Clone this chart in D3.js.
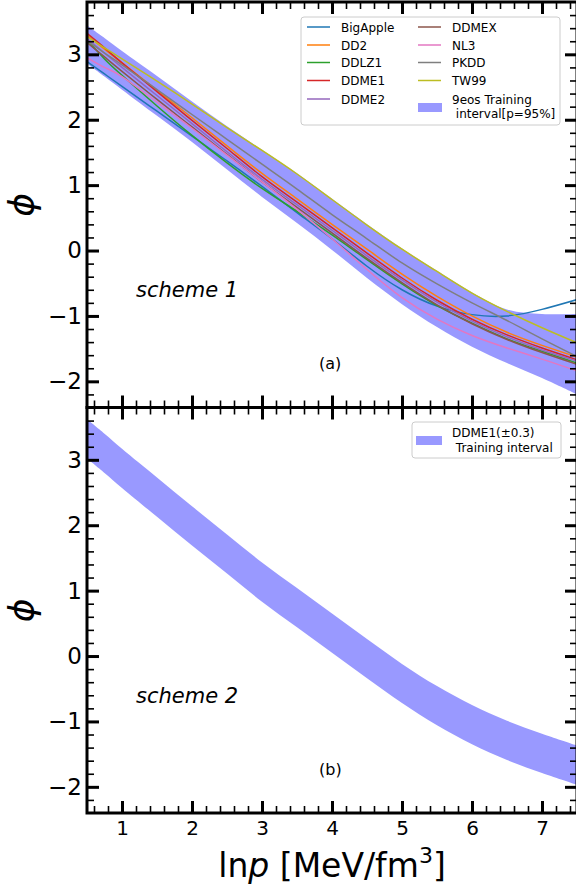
<!DOCTYPE html>
<html><head><meta charset="utf-8">
<script src="https://cdn.jsdelivr.net/npm/d3@7/dist/d3.min.js"></script>
<style>
body{margin:0;background:#fff}
svg{display:block}
text{font-family:"DejaVu Sans",sans-serif;fill:#000}
</style>
</head><body>
<svg id="c" width="576" height="888"></svg>
<script>
// ---------- data ----------
const lnp = [0.5, 0.75, 1, 1.5, 2, 2.5, 3, 3.5, 4, 4.5, 5, 5.5, 6, 6.5, 7, 7.5];

const eosNames  = ["BigApple","DD2","DDLZ1","DDME1","DDME2","DDMEX","NL3","PKDD","TW99"];
const eosColors = ["#1f77b4","#ff7f0e","#2ca02c","#d62728","#9467bd","#8c564b","#e377c2","#7f7f7f","#bcbd22"];

const BigApple = [2.89, 2.70, 2.51, 2.13, 1.75, 1.37, 0.98, 0.58, 0.18, -0.24, -0.60, -0.85, -0.98, -1.00, -0.90, -0.75];
const DD2      = [3.29, 3.08, 2.87, 2.45, 2.03, 1.60, 1.18, 0.79, 0.40, 0.02, -0.36, -0.70, -1.00, -1.25, -1.45, -1.63];
const DDLZ1    = [3.22, 2.93, 2.68, 2.21, 1.76, 1.34, 0.95, 0.60, 0.24, -0.14, -0.51, -0.84, -1.11, -1.35, -1.54, -1.72];
const DDME1    = [3.32, 3.10, 2.87, 2.43, 1.99, 1.56, 1.13, 0.74, 0.35, -0.04, -0.42, -0.76, -1.05, -1.29, -1.49, -1.67];
const DDME2    = [3.24, 3.02, 2.80, 2.37, 1.94, 1.51, 1.09, 0.70, 0.31, -0.08, -0.45, -0.79, -1.08, -1.32, -1.52, -1.69];
const DDMEX    = [3.18, 2.96, 2.74, 2.31, 1.89, 1.47, 1.05, 0.66, 0.27, -0.12, -0.49, -0.83, -1.12, -1.36, -1.56, -1.74];
const NL3      = [2.95, 2.80, 2.66, 2.27, 1.87, 1.46, 1.05, 0.63, 0.18, -0.29, -0.72, -1.05, -1.30, -1.49, -1.66, -1.84];
const PKDD     = [3.21, 3.02, 2.84, 2.46, 2.08, 1.70, 1.32, 0.94, 0.55, 0.18, -0.19, -0.51, -0.80, -1.07, -1.35, -1.62];
const TW99     = [3.27, 3.10, 2.93, 2.59, 2.24, 1.88, 1.53, 1.17, 0.78, 0.39, 0.02, -0.32, -0.65, -0.93, -1.18, -1.41];

// scheme 1: 9 eos training interval
const band1Upper = [3.44, 3.25, 3.05, 2.67, 2.28, 1.90, 1.54, 1.18, 0.79, 0.40, 0.03, -0.31, -0.64, -0.90, -0.97, -0.97];
const band1Lower = [2.86, 2.66, 2.46, 2.06, 1.66, 1.24, 0.82, 0.42, 0.01, -0.42, -0.82, -1.17, -1.47, -1.72, -1.95, -2.20];

// scheme 2: DDME1 (+/-0.3) training interval
const band2Upper = [3.62, 3.40, 3.17, 2.73, 2.29, 1.86, 1.43, 1.04, 0.65, 0.26, -0.12, -0.46, -0.75, -0.99, -1.19, -1.37];
const band2Lower = [3.02, 2.80, 2.57, 2.13, 1.69, 1.26, 0.83, 0.44, 0.05, -0.34, -0.72, -1.06, -1.35, -1.59, -1.79, -1.97];

const xMajorTicks = [1, 2, 3, 4, 5, 6, 7];
const yMajorTicks = [-2, -1, 0, 1, 2, 3];

// ---------- drawing ----------
const eosSeries = [BigApple, DD2, DDLZ1, DDME1, DDME2, DDMEX, NL3, PKDD, TW99];
const svg = d3.select("#c");
const X0 = 87, X1 = 577;
const x = d3.scaleLinear().domain([0.5, 7.5]).range([X0, X1]);
const bandColor = "#9999ff";

const xMinor = d3.range(0.6, 7.45, 0.2).filter(v => Math.abs(v - Math.round(v)) > 0.05);
const yMinor = d3.range(-2.2, 3.75, 0.2).filter(v => Math.abs(v - Math.round(v)) > 0.05);

const panels = [
  {id:"a", y0:2, y1:407.5, upper:band1Upper, lower:band1Lower, lines:true, scheme:"scheme 1", tag:"(a)", showX:false},
  {id:"b", y0:407.5, y1:813, upper:band2Upper, lower:band2Lower, lines:false, scheme:"scheme 2", tag:"(b)", showX:true}
];

panels.forEach(p => {
  const y = d3.scaleLinear().domain([-2.4, 3.8]).range([p.y1, p.y0]);
  const g = svg.append("g");
  const clipId = "clip-" + p.id;
  svg.append("clipPath").attr("id", clipId)
    .append("rect").attr("x", X0).attr("y", p.y0).attr("width", X1 - X0).attr("height", p.y1 - p.y0);
  const plot = g.append("g").attr("clip-path", `url(#${clipId})`);

  const area = d3.area()
    .x((d, i) => x(lnp[i]))
    .y0((d, i) => y(p.lower[i]))
    .y1((d, i) => y(p.upper[i]))
    .curve(d3.curveCatmullRom.alpha(0.5));
  plot.append("path").datum(lnp).attr("d", area).attr("fill", bandColor);

  if (p.lines) {
    const line = d3.line().x((d, i) => x(lnp[i])).y(d => y(d)).curve(d3.curveNatural);
    eosSeries.forEach((s, k) => {
      plot.append("path").datum(s).attr("d", line)
        .attr("fill", "none").attr("stroke", eosColors[k]).attr("stroke-width", 1.5);
    });
  }

  const minorStyle = sel => { sel.select(".domain").remove(); sel.selectAll(".tick line").attr("stroke-width", 1.6); };
  const majorStyle = sel => { sel.select(".domain").remove(); sel.selectAll(".tick line").attr("stroke-width", 3); };

  g.append("g").attr("transform", `translate(0,${p.y1})`)
    .call(d3.axisBottom(x).tickValues(xMinor).tickSize(-7).tickFormat("")).call(minorStyle);
  g.append("g").attr("transform", `translate(0,${p.y0})`)
    .call(d3.axisTop(x).tickValues(xMinor).tickSize(-7).tickFormat("")).call(minorStyle);
  g.append("g").attr("transform", `translate(${X0},0)`)
    .call(d3.axisLeft(y).tickValues(yMinor).tickSize(-7).tickFormat("")).call(minorStyle);
  g.append("g").attr("transform", `translate(${X1},0)`)
    .call(d3.axisRight(y).tickValues(yMinor).tickSize(-7).tickFormat("")).call(minorStyle);

  const xb = g.append("g").attr("transform", `translate(0,${p.y1})`)
    .call(d3.axisBottom(x).tickValues(xMajorTicks).tickSize(-12).tickPadding(8)
      .tickFormat(p.showX ? d3.format("d") : "")).call(majorStyle);
  xb.selectAll("text").attr("font-size", 20).attr("font-family", "DejaVu Sans").attr("fill", "#000");
  g.append("g").attr("transform", `translate(0,${p.y0})`)
    .call(d3.axisTop(x).tickValues(xMajorTicks).tickSize(-12).tickFormat("")).call(majorStyle);
  const yl = g.append("g").attr("transform", `translate(${X0},0)`)
    .call(d3.axisLeft(y).tickValues(yMajorTicks).tickSize(-12).tickPadding(5)
      .tickFormat(d => d < 0 ? "\u2212" + Math.abs(d) : String(d))).call(majorStyle);
  yl.selectAll("text").attr("font-size", 23).attr("font-family", "DejaVu Sans").attr("fill", "#000");
  g.append("g").attr("transform", `translate(${X1},0)`)
    .call(d3.axisRight(y).tickValues(yMajorTicks).tickSize(-12).tickFormat("")).call(majorStyle);

  g.append("rect").attr("x", X0).attr("y", p.y0).attr("width", X1 - X0).attr("height", p.y1 - p.y0)
    .attr("fill", "none").attr("stroke", "#000").attr("stroke-width", 3);

  const yc = (p.y0 + p.y1) / 2;
  svg.append("text").attr("transform", `translate(34,${yc}) rotate(-90)`)
    .attr("text-anchor", "middle").attr("font-size", 36).attr("font-style", "italic").text("\u03D5");

  svg.append("text").attr("x", 136).attr("y", y(0) + 46.5).attr("font-size", 21)
    .attr("font-style", "italic").text(p.scheme);
  svg.append("text").attr("x", 319).attr("y", y(0) + 118.5).attr("font-size", 16).text(p.tag);
});

const xl = svg.append("text").attr("x", 332).attr("y", 877).attr("text-anchor", "middle").attr("font-size", 33);
xl.append("tspan").text("ln");
xl.append("tspan").attr("font-style", "italic").text("p");
xl.append("tspan").text(" [MeV/fm");
xl.append("tspan").attr("font-size", 22).attr("dy", -14).text("3");
xl.append("tspan").attr("dy", 14).text("]");

// ---------- legends ----------
const leg1 = svg.append("g");
leg1.append("rect").attr("x", 301).attr("y", 17).attr("width", 259).attr("height", 108).attr("rx", 3)
  .attr("fill", "#fff").attr("fill-opacity", 0.8).attr("stroke", "#cccccc").attr("stroke-width", 1);
const rowsY = [27, 45, 62.5, 80.5, 99];
eosNames.forEach((n, k) => {
  const col = k < 5 ? 0 : 1;
  const r = k < 5 ? k : k - 5;
  const lx = col === 0 ? 307 : 418;
  const tx = col === 0 ? 341 : 452;
  leg1.append("line").attr("x1", lx).attr("x2", lx + 23).attr("y1", rowsY[r]).attr("y2", rowsY[r])
    .attr("stroke", eosColors[k]).attr("stroke-width", 1.5);
  leg1.append("text").attr("x", tx).attr("y", rowsY[r] + 4.5).attr("font-size", 12).text(n);
});
leg1.append("rect").attr("x", 418).attr("y", 103).attr("width", 24).attr("height", 9).attr("fill", bandColor);
leg1.append("text").attr("x", 452).attr("y", 103.5).attr("font-size", 12).text("9eos Training");
leg1.append("text").attr("x", 452).attr("y", 118).attr("font-size", 12).attr("xml:space", "preserve").text(" interval[p=95%]");

const leg2 = svg.append("g");
leg2.append("rect").attr("x", 412).attr("y", 422).attr("width", 149).attr("height", 36).attr("rx", 3)
  .attr("fill", "#fff").attr("fill-opacity", 0.8).attr("stroke", "#cccccc").attr("stroke-width", 1);
leg2.append("rect").attr("x", 416).attr("y", 436).attr("width", 26).attr("height", 9).attr("fill", bandColor);
leg2.append("text").attr("x", 452).attr("y", 436.5).attr("font-size", 12).text("DDME1(\u00B10.3)");
leg2.append("text").attr("x", 452).attr("y", 451.5).attr("font-size", 12).attr("xml:space", "preserve").text(" Training interval");
</script>
</body></html>
